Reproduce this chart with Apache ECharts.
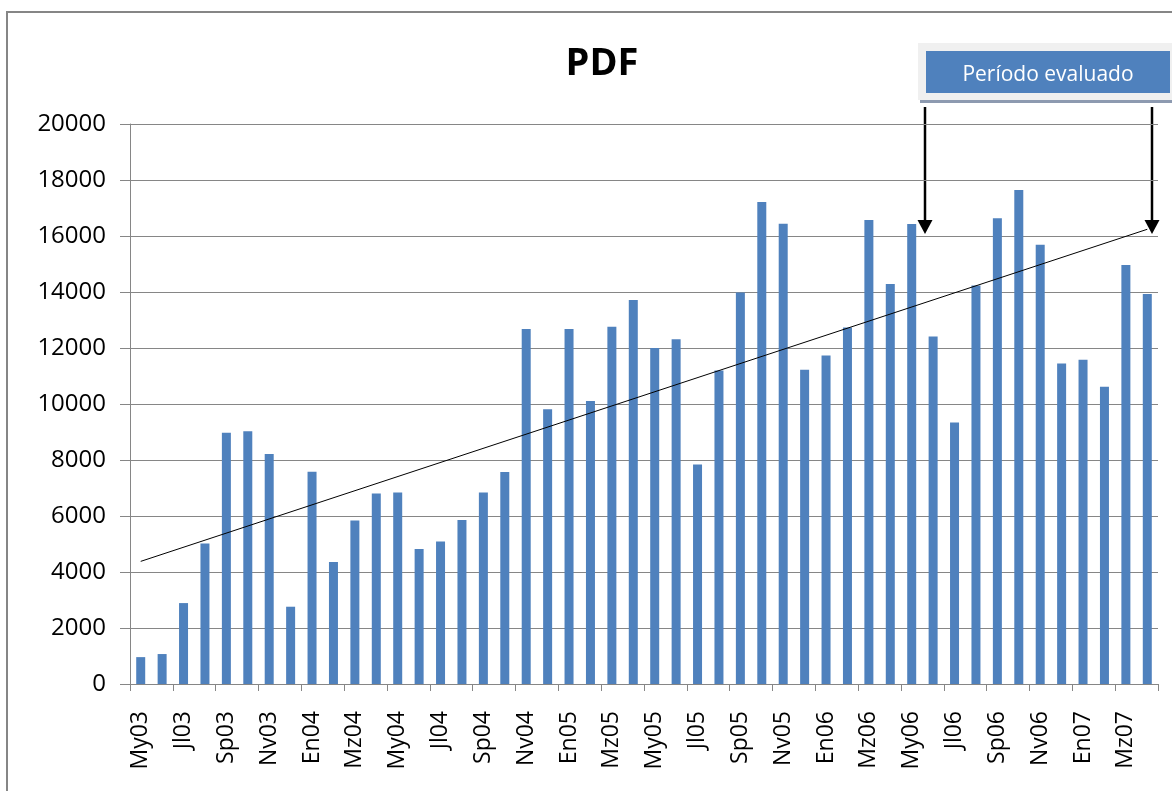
<!DOCTYPE html>
<html>
<head>
<meta charset="utf-8">
<script src="https://cdn.jsdelivr.net/npm/echarts@6/dist/echarts.min.js"></script>
<style>
  html, body { margin: 0; padding: 0; background: #fff; }
  #chart { width: 1172px; height: 791px; }
</style>
</head>
<body>
<div id="chart"></div>
<script>
// months May 2003 .. April 2007
const months = [
  "My03", "Jn03", "Jl03", "Ag03", "Sp03", "Oc03", "Nv03", "Dc03",
  "En04", "Fb04", "Mz04", "Ab04", "My04", "Jn04", "Jl04", "Ag04", "Sp04", "Oc04", "Nv04", "Dc04",
  "En05", "Fb05", "Mz05", "Ab05", "My05", "Jn05", "Jl05", "Ag05", "Sp05", "Oc05", "Nv05", "Dc05",
  "En06", "Fb06", "Mz06", "Ab06", "My06", "Jn06", "Jl06", "Ag06", "Sp06", "Oc06", "Nv06", "Dc06",
  "En07", "Fb07", "Mz07", "Ab07"
];

const pdfValues = [
  960, 1070, 2890, 5020, 8970, 9030, 8210, 2760,
  7580, 4360, 5840, 6800, 6840, 4820, 5090, 5860, 6840, 7570, 12680, 9810,
  12680, 10110, 12760, 13710, 12000, 12310, 7840, 11200, 13980, 17210, 16440, 11220,
  11730, 12730, 16570, 14290, 16430, 12410, 9340, 14230, 16630, 17640, 15690, 11450,
  11580, 10620, 14960, 13930
];

// trend line end points
const trendStart = 4380;
const trendEnd = 16240;

const yTicks = { min: 0, max: 20000, interval: 2000 };

const font = "'Open Sans', sans-serif";
const axisGray = "#868686";
const barBlue = "#4f81bd";

const chart = echarts.init(document.getElementById("chart"));

chart.setOption({
  animation: false,
  title: {
    text: "PDF",
    left: 597,
    top: 40,
    textAlign: "center",
    textStyle: { fontFamily: font, fontWeight: "bold", fontSize: 38, color: "#000" }
  },
  grid: { left: 130, right: 14, top: 124, bottom: 107 },
  xAxis: {
    type: "category",
    data: months,
    axisLine: { lineStyle: { color: axisGray } },
    axisTick: { show: true, length: 7, lineStyle: { color: axisGray } },
    axisLabel: {
      interval: 1,
      rotate: 90,
      margin: 27,
      fontFamily: font,
      fontSize: 23,
      color: "#000"
    }
  },
  yAxis: {
    type: "value",
    min: yTicks.min,
    max: yTicks.max,
    interval: yTicks.interval,
    axisLine: { show: true, lineStyle: { color: axisGray } },
    axisTick: { show: true, length: 10, lineStyle: { color: axisGray } },
    axisLabel: {
      margin: 24,
      fontFamily: font,
      fontSize: 24,
      color: "#000",
      formatter: v => String(v)
    },
    splitLine: { lineStyle: { color: axisGray, width: 1 } }
  },
  series: [
    {
      name: "PDF",
      type: "bar",
      data: pdfValues,
      barWidth: 9,
      itemStyle: { color: barBlue },
      markLine: {
        silent: true,
        symbol: "none",
        label: { show: false },
        lineStyle: { color: "#000", width: 1, type: "solid" },
        data: [[
          { coord: [months[0], trendStart] },
          { coord: [months[months.length - 1], trendEnd] }
        ]]
      }
    }
  ],
  graphic: [
    // outer chart border
    {
      type: "rect",
      shape: { x: 7, y: 12, width: 1300, height: 900 },
      style: { fill: null, stroke: axisGray, lineWidth: 2 }
    },
    // "Período evaluado" box
    {
      type: "rect",
      shape: { x: 918, y: 43, width: 270, height: 57 },
      style: { fill: "#f0f0f0" }
    },
    {
      type: "rect",
      shape: { x: 920, y: 100, width: 270, height: 3 },
      style: { fill: "#8d9ab0" }
    },
    {
      type: "rect",
      shape: { x: 926, y: 51, width: 244, height: 42 },
      style: { fill: barBlue }
    },
    {
      type: "text",
      x: 1048,
      y: 75,
      style: {
        text: "Período evaluado",
        fill: "#fff",
        font: "21px " + font,
        textAlign: "center",
        textVerticalAlign: "middle"
      }
    },
    // arrows
    {
      type: "line",
      shape: { x1: 925, y1: 107, x2: 925, y2: 222 },
      style: { stroke: "#000", lineWidth: 2.5 }
    },
    {
      type: "polygon",
      shape: { points: [[917.5, 220], [932.5, 220], [925, 234]] },
      style: { fill: "#000" }
    },
    {
      type: "line",
      shape: { x1: 1152, y1: 107, x2: 1152, y2: 222 },
      style: { stroke: "#000", lineWidth: 2.5 }
    },
    {
      type: "polygon",
      shape: { points: [[1144.5, 220], [1159.5, 220], [1152, 234]] },
      style: { fill: "#000" }
    }
  ]
});
</script>
</body>
</html>
